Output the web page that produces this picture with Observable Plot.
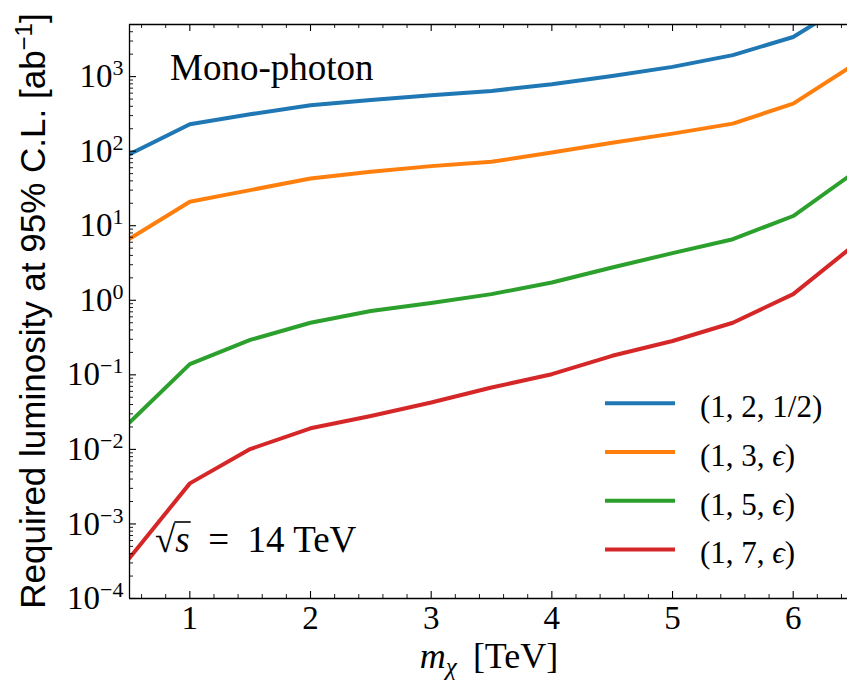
<!DOCTYPE html>
<html><head><meta charset="utf-8">
<script src="https://cdn.jsdelivr.net/npm/d3@7"></script>
<script src="https://cdn.jsdelivr.net/npm/@observablehq/plot@0.6"></script>
<style>body{margin:0;background:#fff} svg{display:block}</style>
</head><body><div id="chart"></div>
<script>
// ---- data ----
const mass = [0.5, 1, 1.5, 2, 2.5, 3, 3.5, 4, 4.5, 5, 5.5, 6, 6.5];
const lumi_1_2_half = [91, 230, 313, 413, 487, 562, 643, 790, 1020, 1350, 1940, 3400, 10700];
const lumi_1_3_eps  = [6.7, 21, 30, 43, 53, 63, 72, 96, 130, 172, 234, 435, 1430];
const lumi_1_5_eps  = [0.0229, 0.139, 0.294, 0.50, 0.72, 0.92, 1.21, 1.73, 2.75, 4.29, 6.6, 13.5, 51];
const lumi_1_7_eps  = [3.5e-4, 0.0035, 0.0101, 0.0192, 0.028, 0.0425, 0.0676, 0.102, 0.18, 0.284, 0.50, 1.21, 5.4];
const seriesNames = ["(1,2,1/2)", "(1,3,eps)", "(1,5,eps)", "(1,7,eps)"];
const seriesColors = ["#1f77b4", "#ff7f0e", "#2ca02c", "#d62728"];
const xTicks = [1, 2, 3, 4, 5, 6];
const yTicks = [1e-4, 1e-3, 1e-2, 1e-1, 1e0, 1e1, 1e2, 1e3];

const seriesValues = [lumi_1_2_half, lumi_1_3_eps, lumi_1_5_eps, lumi_1_7_eps];
const rows = [];
seriesNames.forEach((s, i) => mass.forEach((m, j) => rows.push({series: s, m, L: seriesValues[i][j]})));

const xMinor = d3.range(0.6, 6.45, 0.2).filter(v => Math.abs(v - Math.round(v)) > 1e-6);
const yMinor = [];
for (let e = -4; e <= 3; e++) for (let k = 2; k <= 9; k++) { const v = k * Math.pow(10, e); if (v <= 5e3) yMinor.push(v); }

const W = 847, H = 685, mL = 129, mT = 24, mR = 0, mB = 87;
const fw = W - mL - mR, fh = H - mT - mB;

const plot = Plot.plot({
  width: W, height: H,
  marginLeft: mL, marginTop: mT, marginRight: mR, marginBottom: mB,
  style: {fontFamily: "'Liberation Serif', serif", fontSize: "33px", background: "#fff", color: "#000"},
  x: {domain: [0.5, 6.45]},
  y: {type: "log", domain: [1e-4, 5e3]},
  color: {domain: seriesNames, range: seriesColors},
  marks: [
    Plot.line(rows, {x: "m", y: "L", z: "series", stroke: "series", strokeWidth: 4, clip: true}),
    // frame
    Plot.ruleX([0.5], {stroke: "#000", strokeWidth: 1.3}),
    Plot.ruleY([1e-4], {stroke: "#000", strokeWidth: 1.3}),
    Plot.ruleY([5e3], {stroke: "#000", strokeWidth: 1.3}),
    // inward ticks
    Plot.ruleX(xTicks, {insetTop: fh - 7, stroke: "#000", strokeWidth: 1.1}),
    Plot.ruleX(xTicks, {insetBottom: fh - 7, stroke: "#000", strokeWidth: 1.1}),
    Plot.ruleX(xMinor, {insetTop: fh - 4, stroke: "#000", strokeWidth: 0.9}),
    Plot.ruleX(xMinor, {insetBottom: fh - 4, stroke: "#000", strokeWidth: 0.9}),
    Plot.ruleY(yTicks, {insetRight: fw - 7, stroke: "#000", strokeWidth: 1.1}),
    Plot.ruleY(yMinor, {insetRight: fw - 4, stroke: "#000", strokeWidth: 0.9}),
    Plot.axisX({ticks: xTicks, tickSize: 0, tickPadding: 7, tickFormat: d => String(d), fontSize: 33, label: null}),
    Plot.axisY({ticks: yTicks, tickSize: 0, tickPadding: 6, tickFormat: d => String(Math.round(Math.log10(d))), fontSize: 33, label: null})
  ]
});

document.getElementById("chart").appendChild(plot);
const svg = d3.select(plot);

// superscripted y tick labels
svg.selectAll('g[aria-label="y-axis tick label"] text').each(function () {
  const e = this.textContent.replace("-", "\u2212");
  const t = d3.select(this);
  t.text("10");
  t.append("tspan").attr("dy", -12).attr("font-size", 22).text(e);
});

const serif = "'Liberation Serif', serif";
function txt(x, y, size, family, anchor) {
  return svg.append("text").attr("x", x).attr("y", y).attr("font-size", size)
    .attr("font-family", family).attr("text-anchor", anchor || "start").attr("fill", "#000");
}

// y label
const yl = svg.append("text").attr("transform", "translate(45,311) rotate(-90)")
  .attr("text-anchor", "middle").attr("font-family", "'Liberation Sans', Arial, sans-serif")
  .attr("font-size", 35).attr("fill", "#000");
yl.append("tspan").text("Required luminosity at 95% C.L. [ab");
yl.append("tspan").attr("dy", -13).attr("font-size", 24).text("\u22121");
yl.append("tspan").attr("dy", 13).text("]");

// x label
const xl = txt(489, 668, 36, serif, "middle");
xl.append("tspan").attr("font-style", "italic").text("m");
xl.append("tspan").attr("font-style", "italic").attr("font-size", 25).attr("dy", 7).text("\u03c7");
xl.append("tspan").attr("dy", -7).text("\u2009 [TeV]");

// annotations
txt(170, 80, 37, serif).text("Mono-photon");
const sq = txt(155, 552, 37, serif);
sq.append("tspan").text("\u221a");
sq.append("tspan").attr("font-style", "italic").text("s");
sq.append("tspan").text("\u2002=\u2002" + "14 TeV");
{
  const n = sq.node();
  const x0 = n.getEndPositionOfChar(0).x - 1;
  const x1 = n.getEndPositionOfChar(1).x + 1;
  svg.append("line").attr("x1", x0).attr("x2", x1).attr("y1", 552 - 30).attr("y2", 552 - 30)
    .attr("stroke", "#000").attr("stroke-width", 1.6);
}

// legend
const legendLabels = [
  [{t: "(1, 2, 1/2)"}],
  [{t: "(1, 3, "}, {t: "\u03f5", i: true}, {t: ")"}],
  [{t: "(1, 5, "}, {t: "\u03f5", i: true}, {t: ")"}],
  [{t: "(1, 7, "}, {t: "\u03f5", i: true}, {t: ")"}]
];
legendLabels.forEach((parts, i) => {
  const y = 403.3 + i * 48.7;
  svg.append("line").attr("x1", 605).attr("x2", 675).attr("y1", y).attr("y2", y)
    .attr("stroke", seriesColors[i]).attr("stroke-width", 4);
  const t = txt(700, y + 14, 31, serif);
  parts.forEach(p => t.append("tspan").attr("font-style", p.i ? "italic" : null).text(p.t));
});
</script></body></html>
